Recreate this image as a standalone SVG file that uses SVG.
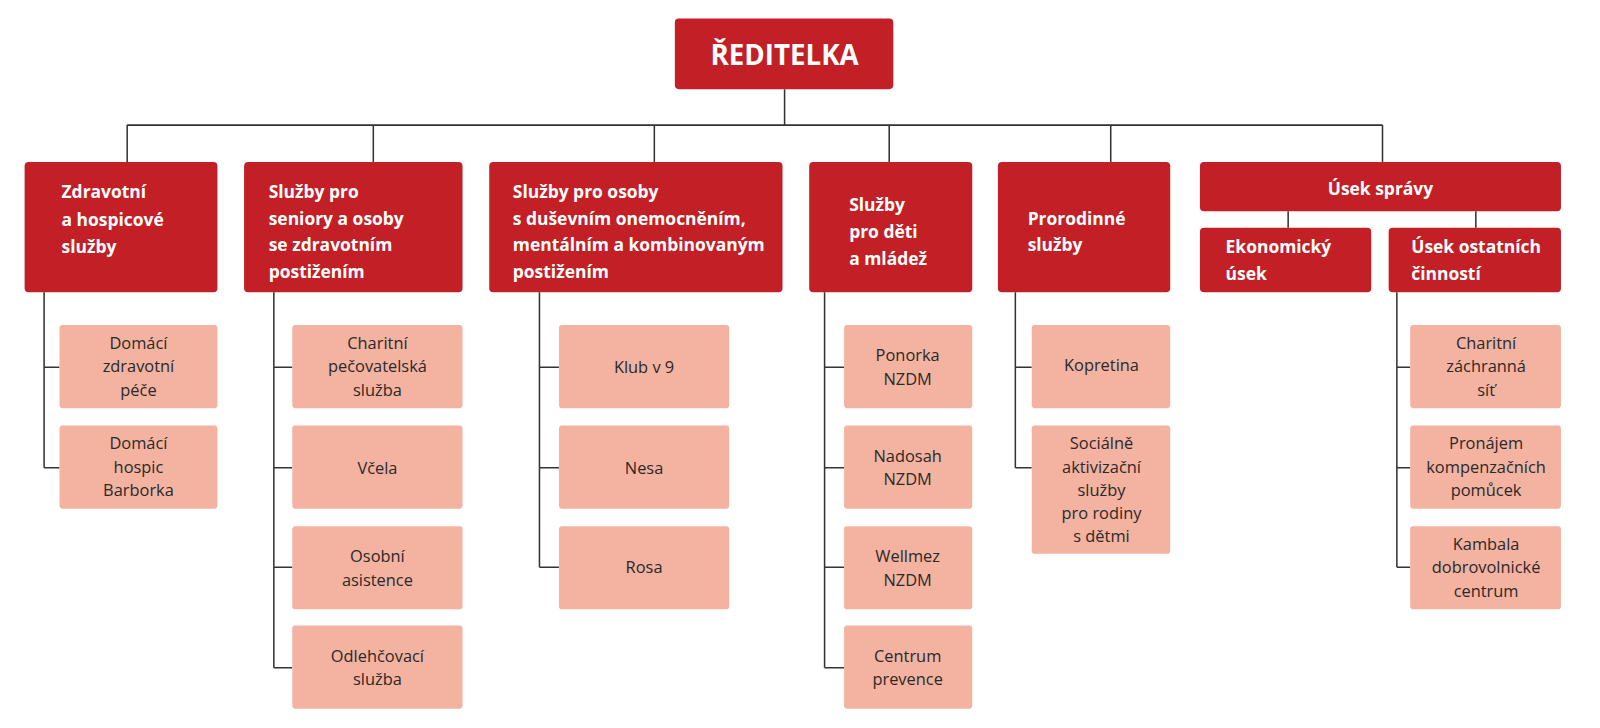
<svg xmlns="http://www.w3.org/2000/svg" width="1600" height="728" viewBox="0 0 1600 728">
<style>
.r{fill:#c22026}
.p{fill:#f4b2a0}
.h{font-family:"Open Sans","Liberation Sans",sans-serif;font-weight:bold;font-size:17px;fill:#fff}
.c{font-family:"Open Sans","Liberation Sans",sans-serif;font-size:16px;fill:#2a2a2a;text-anchor:middle}
.ln{stroke:#333;stroke-width:1.5;fill:none}
</style>
<rect width="1600" height="728" fill="#fff"/>
<g transform="scale(1.0256)">
<g id="connectors" class="ln">
<path d="M765 87V122M124 122H1348M124 122V158M364 122V158M638 122V158M867 122V158M1083 122V158M1348 122V158M1256 206V222M1439 206V222"/>
<path d="M43 285V456M43 358H58M43 456H58"/>
<path d="M267 285V651M267 358H285M267 456H285M267 553H285M267 651H285"/>
<path d="M526 285V553M526 358H545M526 456H545M526 553H545"/>
<path d="M804 285V651M804 358H823M804 456H823M804 553H823M804 651H823"/>
<path d="M990 285V456M990 358H1006M990 456H1006"/>
<path d="M1362 285V553M1362 358H1375M1362 456H1375M1362 553H1375"/>
</g>
<g id="root"><rect class="r" x="658" y="18" width="213" height="69" rx="4"/><text x="765" y="63" class="h" text-anchor="middle" style="font-size:27px">ŘEDITELKA</text></g>
<g id="c1"><rect class="r" x="24" y="158" width="188" height="127" rx="4"/><text class="h"><tspan x="60" y="193">Zdravotní</tspan><tspan x="60" y="220">a hospicové</tspan><tspan x="60" y="247">služby</tspan></text></g>
<g id="c2"><rect class="r" x="238" y="158" width="213" height="127" rx="4"/><text class="h"><tspan x="262" y="193">Služby pro</tspan><tspan x="262" y="219">seniory a osoby</tspan><tspan x="262" y="245">se zdravotním</tspan><tspan x="262" y="271">postižením</tspan></text></g>
<g id="c3"><rect class="r" x="477" y="158" width="286" height="127" rx="4"/><text class="h"><tspan x="500" y="193">Služby pro osoby</tspan><tspan x="500" y="219">s duševním onemocněním,</tspan><tspan x="500" y="245">mentálním a kombinovaným</tspan><tspan x="500" y="271">postižením</tspan></text></g>
<g id="c4"><rect class="r" x="789" y="158" width="159" height="127" rx="4"/><text class="h"><tspan x="828" y="206">Služby</tspan><tspan x="828" y="232">pro děti</tspan><tspan x="828" y="258">a mládež</tspan></text></g>
<g id="c5"><rect class="r" x="973" y="158" width="168" height="127" rx="4"/><text class="h"><tspan x="1002" y="219">Prorodinné</tspan><tspan x="1002" y="245">služby</tspan></text></g>
<g id="c6"><rect class="r" x="1170" y="158" width="352" height="48" rx="4"/><text class="h" x="1346" y="190" text-anchor="middle">Úsek správy</text></g>
<g id="c6a"><rect class="r" x="1170" y="222" width="167" height="63" rx="4"/><text class="h"><tspan x="1195" y="247">Ekonomický</tspan><tspan x="1195" y="273">úsek</tspan></text></g>
<g id="c6b"><rect class="r" x="1354" y="222" width="168" height="63" rx="4"/><text class="h"><tspan x="1376" y="247">Úsek ostatních</tspan><tspan x="1376" y="273">činností</tspan></text></g>

<g id="n1a"><rect class="p" x="58" y="317" width="154" height="81" rx="3"/><text class="c"><tspan x="135" y="340">Domácí</tspan><tspan x="135" y="363">zdravotní</tspan><tspan x="135" y="386">péče</tspan></text></g>
<g id="n1b"><rect class="p" x="58" y="415" width="154" height="81" rx="3"/><text class="c"><tspan x="135" y="438">Domácí</tspan><tspan x="135" y="461">hospic</tspan><tspan x="135" y="484">Barborka</tspan></text></g>

<g id="n2a"><rect class="p" x="285" y="317" width="166" height="81" rx="3"/><text class="c"><tspan x="368" y="340">Charitní</tspan><tspan x="368" y="363">pečovatelská</tspan><tspan x="368" y="386">služba</tspan></text></g>
<g id="n2b"><rect class="p" x="285" y="415" width="166" height="81" rx="3"/><text class="c" x="368" y="462">Včela</text></g>
<g id="n2c"><rect class="p" x="285" y="513" width="166" height="81" rx="3"/><text class="c"><tspan x="368" y="548">Osobní</tspan><tspan x="368" y="571">asistence</tspan></text></g>
<g id="n2d"><rect class="p" x="285" y="610" width="166" height="81" rx="3"/><text class="c"><tspan x="368" y="645">Odlehčovací</tspan><tspan x="368" y="668">služba</tspan></text></g>

<g id="n3a"><rect class="p" x="545" y="317" width="166" height="81" rx="3"/><text class="c" x="628" y="364">Klub v 9</text></g>
<g id="n3b"><rect class="p" x="545" y="415" width="166" height="81" rx="3"/><text class="c" x="628" y="462">Nesa</text></g>
<g id="n3c"><rect class="p" x="545" y="513" width="166" height="81" rx="3"/><text class="c" x="628" y="559">Rosa</text></g>

<g id="n4a"><rect class="p" x="823" y="317" width="125" height="81" rx="3"/><text class="c"><tspan x="885" y="352">Ponorka</tspan><tspan x="885" y="375">NZDM</tspan></text></g>
<g id="n4b"><rect class="p" x="823" y="415" width="125" height="81" rx="3"/><text class="c"><tspan x="885" y="450">Nadosah</tspan><tspan x="885" y="473">NZDM</tspan></text></g>
<g id="n4c"><rect class="p" x="823" y="513" width="125" height="81" rx="3"/><text class="c"><tspan x="885" y="548">Wellmez</tspan><tspan x="885" y="571">NZDM</tspan></text></g>
<g id="n4d"><rect class="p" x="823" y="610" width="125" height="81" rx="3"/><text class="c"><tspan x="885" y="645">Centrum</tspan><tspan x="885" y="668">prevence</tspan></text></g>

<g id="n5a"><rect class="p" x="1006" y="317" width="135" height="81" rx="3"/><text class="c" x="1074" y="362">Kopretina</text></g>
<g id="n5b"><rect class="p" x="1006" y="415" width="135" height="125" rx="3"/><text class="c"><tspan x="1074" y="438">Sociálně</tspan><tspan x="1074" y="461">aktivizační</tspan><tspan x="1074" y="484">služby</tspan><tspan x="1074" y="506">pro rodiny</tspan><tspan x="1074" y="528">s dětmi</tspan></text></g>

<g id="n6a"><rect class="p" x="1375" y="317" width="147" height="81" rx="3"/><text class="c"><tspan x="1449" y="340">Charitní</tspan><tspan x="1449" y="363">záchranná</tspan><tspan x="1449" y="386">síť</tspan></text></g>
<g id="n6b"><rect class="p" x="1375" y="415" width="147" height="81" rx="3"/><text class="c"><tspan x="1449" y="438">Pronájem</tspan><tspan x="1449" y="461">kompenzačních</tspan><tspan x="1449" y="484">pomůcek</tspan></text></g>
<g id="n6c"><rect class="p" x="1375" y="513" width="147" height="81" rx="3"/><text class="c"><tspan x="1449" y="536">Kambala</tspan><tspan x="1449" y="559">dobrovolnické</tspan><tspan x="1449" y="582">centrum</tspan></text></g>
</g>
</svg>
